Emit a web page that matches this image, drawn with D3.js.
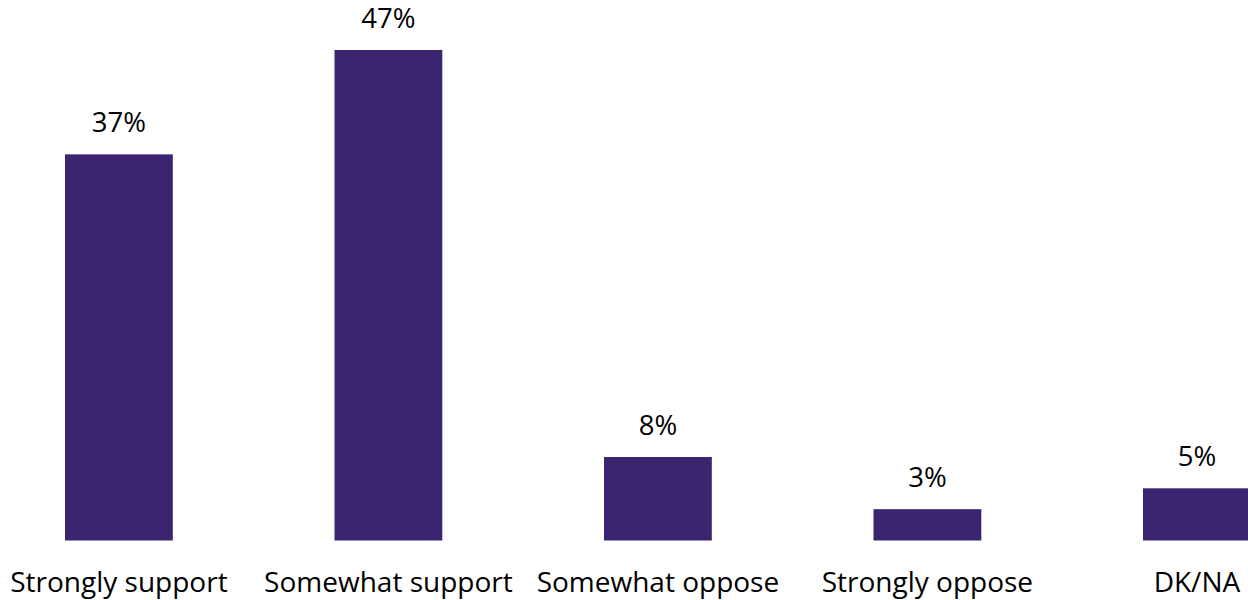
<!DOCTYPE html>
<html><head><meta charset="utf-8">
<script src="https://cdn.jsdelivr.net/npm/d3@7"></script>
<style>body{margin:0;background:#fff;overflow:hidden}</style>
</head><body>
<svg id="c" width="1248" height="600"></svg>
<script>
const categories = ["Strongly support","Somewhat support","Somewhat oppose","Strongly oppose","DK/NA"];
const values = [37, 47, 8, 3, 5];
const valueLabels = ["37%","47%","8%","3%","5%"];

const svg = d3.select("#c");
const baseline = 540.5;
const x = d3.scaleBand().domain(categories).range([-15.85, 1331.65]).paddingInner(0.6).paddingOuter(0.3);
const y = d3.scaleLinear().domain([0, 47]).range([baseline, 50]);
const font = "'Open Sans', Lato, sans-serif";

svg.selectAll("rect.bar").data(values).join("rect")
  .attr("class","bar")
  .attr("x",(d,i)=>x(categories[i]))
  .attr("width",x.bandwidth())
  .attr("y",d=>y(d))
  .attr("height",d=>baseline-y(d))
  .attr("fill","#3b2470");

svg.selectAll("text.val").data(values).join("text")
  .attr("class","val")
  .attr("x",(d,i)=>x(categories[i])+x.bandwidth()/2)
  .attr("y",d=>y(d)-22)
  .attr("text-anchor","middle")
  .attr("font-family",font).attr("font-size",27.5).attr("fill","#000")
  .text((d,i)=>valueLabels[i]);

const xAxis = d3.axisBottom(x).tickSize(0).tickPadding(0);
const g = svg.append("g").attr("transform",`translate(0,${baseline})`).call(xAxis);
g.select(".domain").remove();
g.selectAll("text").attr("font-family",font).attr("font-size",28).attr("fill","#000")
  .attr("dy",null).attr("y",51.5);
</script>
</body></html>
